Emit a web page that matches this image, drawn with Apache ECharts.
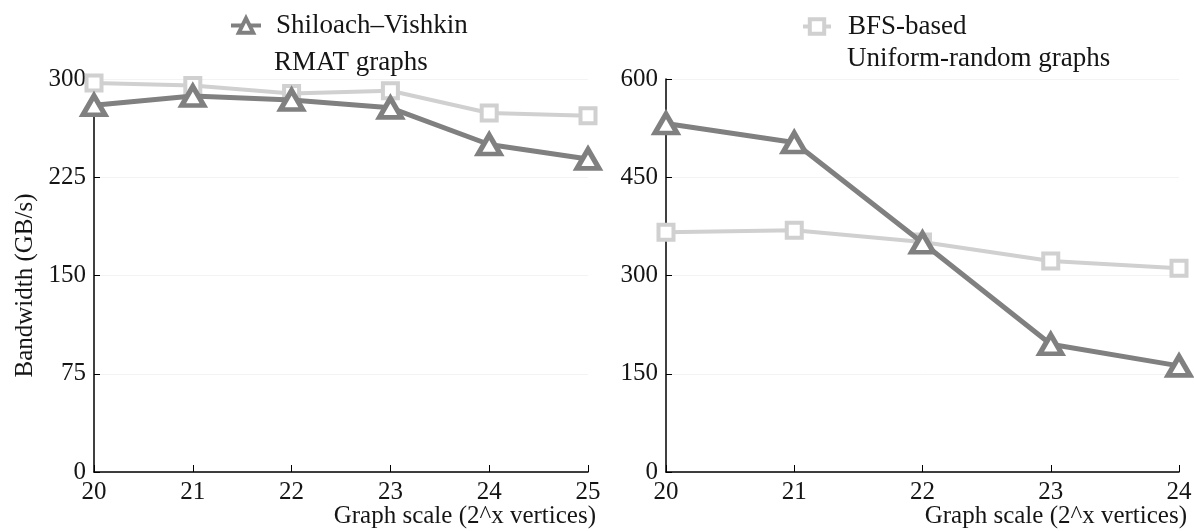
<!DOCTYPE html>
<html>
<head>
<meta charset="utf-8">
<script src="https://cdn.jsdelivr.net/npm/echarts@6/dist/echarts.min.js"></script>
<style>
  html, body { margin: 0; padding: 0; background: #fff; }
  #chart { width: 1194px; height: 531px; }
</style>
</head>
<body>
<div id="chart"></div>
<script>
// graph scale (2^x vertices)
const rmatScales = ['20', '21', '22', '23', '24', '25'];
const uniformScales = ['20', '21', '22', '23', '24'];

// bandwidth, GB/s
const svRmat = [280, 287, 284, 278, 250, 239];
const bfsRmat = [297, 295, 289, 291, 274, 272];
const svUniform = [532, 503, 350, 195, 162];
const bfsUniform = [366, 369, 351, 322, 311];

const DARK = '#808080';
const LIGHT = '#d0d0d0';
const FONT = 'Liberation Serif';
const INK = '#151515';

function xAxis(grid, data) {
  return {
    type: 'category',
    gridIndex: grid,
    data: data,
    boundaryGap: false,
    name: 'Graph scale (2^x vertices)',
    nameLocation: 'end',
    nameGap: 8,
    nameMoveOverlap: false,
    nameTextStyle: {
      fontFamily: FONT, fontSize: 25, color: INK,
      align: 'right', verticalAlign: 'top', padding: [32, 0, 0, 0]
    },
    axisLine: { lineStyle: { color: '#000', width: 1.5 } },
    axisTick: { inside: true, length: 7, alignWithLabel: true, lineStyle: { color: '#000' } },
    axisLabel: { fontFamily: FONT, fontSize: 25, color: INK, margin: 8 },
    splitLine: { show: false }
  };
}

function yAxis(grid, max, interval, name) {
  return {
    type: 'value',
    gridIndex: grid,
    min: 0,
    max: max,
    interval: interval,
    name: name,
    nameLocation: 'middle',
    nameGap: 56,
    nameTextStyle: { fontFamily: FONT, fontSize: 25, color: INK, padding: [0, 20, 0, 0] },
    axisLine: { show: true, lineStyle: { color: '#000', width: 1.5 } },
    axisTick: { show: true, inside: true, length: 6, lineStyle: { color: '#000' } },
    axisLabel: { fontFamily: FONT, fontSize: 25, color: INK, margin: 8 },
    splitLine: { show: true, lineStyle: { color: '#f3f3f3', width: 1 } }
  };
}

function svSeries(idx, data) {
  return {
    name: 'Shiloach\u2013Vishkin',
    type: 'line',
    xAxisIndex: idx, yAxisIndex: idx,
    data: data,
    symbol: 'triangle',
    symbolSize: [22, 19],
    lineStyle: { color: DARK, width: 5 },
    itemStyle: { color: '#fff', borderColor: DARK, borderWidth: 5 },
    z: 3
  };
}

function bfsSeries(idx, data) {
  return {
    name: 'BFS-based',
    type: 'line',
    xAxisIndex: idx, yAxisIndex: idx,
    data: data,
    symbol: 'rect',
    symbolSize: 15,
    lineStyle: { color: LIGHT, width: 4 },
    itemStyle: { color: '#fff', borderColor: LIGHT, borderWidth: 4 },
    z: 2
  };
}

const chart = echarts.init(document.getElementById('chart'));
chart.setOption({
  animation: false,
  title: [
    { text: 'RMAT graphs', left: 269, top: 44,
      textStyle: { fontFamily: FONT, fontSize: 27, fontWeight: 'normal', color: INK } },
    { text: 'Uniform-random graphs', left: 842, top: 40,
      textStyle: { fontFamily: FONT, fontSize: 27, fontWeight: 'normal', color: INK } }
  ],
  legend: [
    { data: ['Shiloach\u2013Vishkin'], left: 224, top: 7, itemWidth: 30, itemHeight: 18,
      itemStyle: { borderWidth: 4 }, lineStyle: { width: 4 },
      textStyle: { fontFamily: FONT, fontSize: 27, color: INK, padding: [0, 0, 0, 10] } },
    { data: ['BFS-based'], left: 796, top: 8, itemWidth: 28, itemHeight: 18,
      itemStyle: { borderWidth: 4 }, lineStyle: { width: 4 },
      textStyle: { fontFamily: FONT, fontSize: 27, color: INK, padding: [0, 0, 0, 12] } }
  ],
  grid: [
    { left: 94, right: 606, top: 79, bottom: 59, outerBoundsMode: 'none', containLabel: false },
    { left: 666, right: 15, top: 79, bottom: 59, outerBoundsMode: 'none', containLabel: false }
  ],
  xAxis: [xAxis(0, rmatScales), xAxis(1, uniformScales)],
  yAxis: [yAxis(0, 300, 75, 'Bandwidth (GB/s)'), yAxis(1, 600, 150, '')],
  series: [
    bfsSeries(0, bfsRmat),
    svSeries(0, svRmat),
    bfsSeries(1, bfsUniform),
    svSeries(1, svUniform)
  ]
});
</script>
</body>
</html>
